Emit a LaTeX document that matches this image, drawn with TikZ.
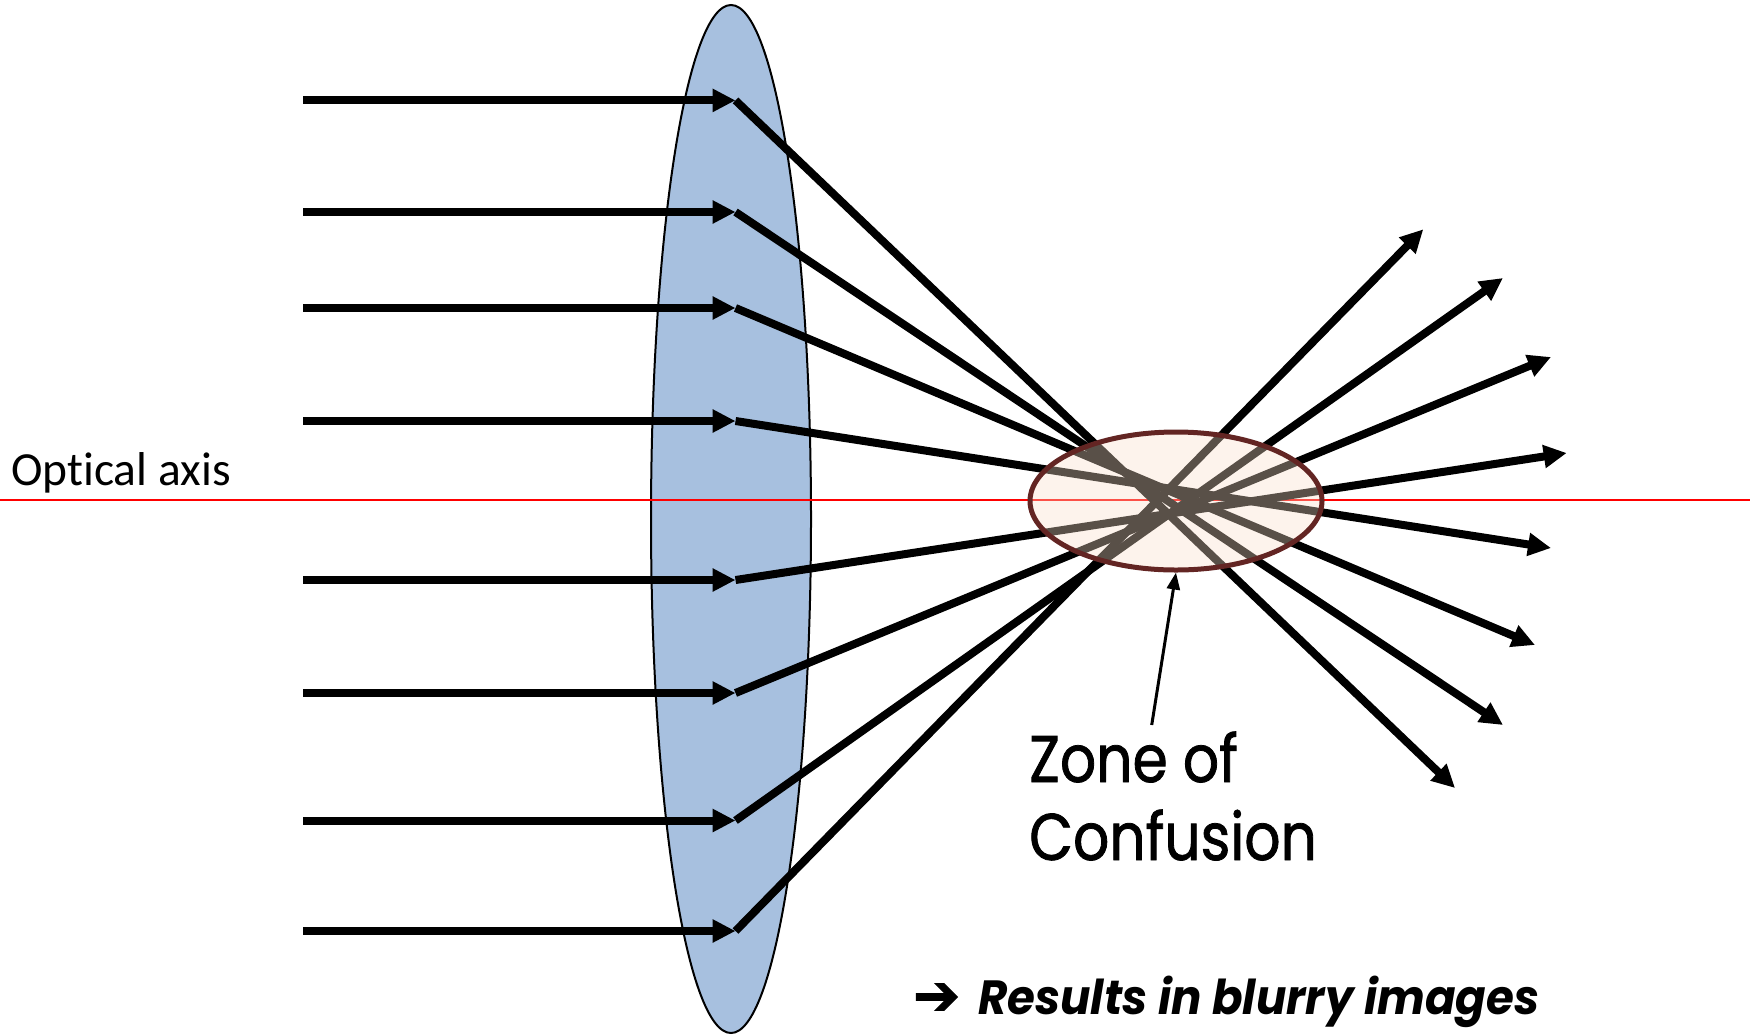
\documentclass[tikz,border=0pt]{standalone}
\usepackage{fontspec}
\setmainfont[Ligatures=NoCommon]{Carlito}
\newfontfamily\comicfont[FakeStretch=0.86,FakeBold=1.2]{Poppins}
\newfontfamily\resfont[FakeStretch=0.94]{Poppins}
\newfontfamily\symfont[FakeBold=2]{DejaVu Sans}
\usetikzlibrary{arrows.meta,shapes.geometric}
\definecolor{lensblue}{RGB}{167,192,223}
\definecolor{zonefill}{RGB}{249,222,202}
\definecolor{zoneedge}{RGB}{99,37,35}
\begin{document}
\begin{tikzpicture}[x=1pt,y=-1pt,
  ray/.style={line width=8pt,-{Triangle[length=23pt,width=22pt]}},
  pointer/.style={line width=3pt,-{Triangle[length=17pt,width=13pt]}},
  lbl/.style={anchor=base west,inner sep=0pt}]
\useasboundingbox (0,0) rectangle (1750,1034);
% lens
\node[ellipse,draw=black,line width=2pt,fill=lensblue,minimum width=160pt,minimum height=1028pt,inner sep=0pt] (lens) at (731,519) {};
% optical axis
\coordinate (axL) at (0,500);
\coordinate (axR) at (1750,500);
\draw[red,line width=2pt] (axL) -- (axR);
\node[lbl,font=\fontsize{47.5}{50}\selectfont] (axlabel) at (11,485) {Optical axis};
% rays
\foreach \i/\y/\ex/\ey in {1/100.4/1455/788, 2/212/1503/725, 3/308/1535/645, 4/421/1551/548,
                           5/580/1566.7/453, 6/693/1551/357, 7/820.5/1503/278, 8/931/1423.3/229.3} {
  \coordinate (s\i) at (303.3,\y);
  \coordinate (l\i) at (735.5,\y);
  \coordinate (e\i) at (\ex,\ey);
  \draw[ray] (s\i) -- (l\i);
  \draw[ray] (l\i) -- (e\i);
}
% zone of confusion
\node[ellipse,draw=zoneedge,line width=5pt,fill=zonefill,fill opacity=0.36,draw opacity=1,
      minimum width=292pt,minimum height=138pt,inner sep=0pt] (zone) at (1176,501) {};
\node[lbl,font=\comicfont\fontsize{66}{70}\selectfont] (zoc1) at (1029,782) {Zone of};
\node[lbl,font=\comicfont\fontsize{66}{70}\selectfont] (zoc2) at (1029,860) {Confusion};
\coordinate (ptr) at (1151.7,725);
\draw[pointer] (ptr) -- (zone.south);
% conclusion
\node[lbl,font=\resfont\bfseries\itshape\fontsize{48}{52}\selectfont] (res) at (913,1014.5)
  {{\symfont\fontsize{56}{56}\selectfont ➔}\hspace{18pt}Results in blurry images};
\end{tikzpicture}
\end{document}
